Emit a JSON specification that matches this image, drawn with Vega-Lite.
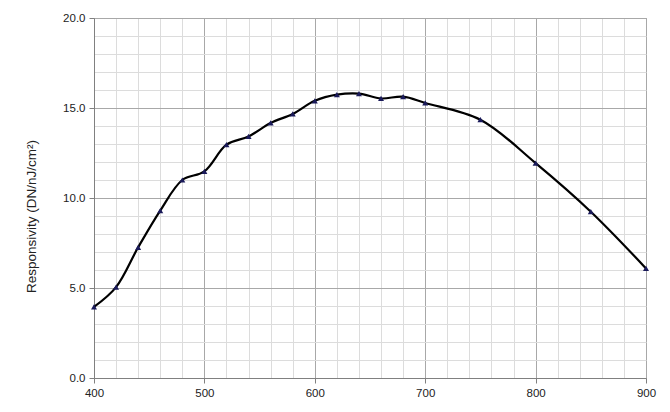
{
  "$schema": "https://vega.github.io/schema/vega-lite/v6.json",
  "autosize": "none",
  "width": 552,
  "height": 360,
  "padding": {"left": 94, "top": 18, "right": 24, "bottom": 34},
  "background": "white",
  "config": {
    "view": {"stroke": "#8c8c8c", "strokeWidth": 1},
    "font": "Liberation Sans"
  },
  "data": {
    "values": [
      {"wl": 400, "r": 3.95},
      {"wl": 420, "r": 5.05},
      {"wl": 440, "r": 7.26},
      {"wl": 460, "r": 9.3},
      {"wl": 480, "r": 11.0},
      {"wl": 500, "r": 11.48},
      {"wl": 520, "r": 12.96},
      {"wl": 540, "r": 13.42},
      {"wl": 560, "r": 14.17},
      {"wl": 580, "r": 14.67},
      {"wl": 600, "r": 15.4},
      {"wl": 620, "r": 15.74},
      {"wl": 640, "r": 15.8},
      {"wl": 660, "r": 15.53},
      {"wl": 680, "r": 15.63},
      {"wl": 700, "r": 15.28},
      {"wl": 750, "r": 14.35},
      {"wl": 800, "r": 11.94},
      {"wl": 850, "r": 9.24},
      {"wl": 900, "r": 6.09}
    ]
  },
  "encoding": {
    "x": {
      "field": "wl", "type": "quantitative",
      "scale": {"domain": [400, 900], "nice": false, "zero": false},
      "axis": {
        "title": null,
        "values": [400,420,440,460,480,500,520,540,560,580,600,620,640,660,680,700,720,740,760,780,800,820,840,860,880,900],
        "labelExpr": "datum.value % 100 === 0 ? datum.label : ''",
        "format": "d",
        "grid": true,
        "gridColor": {"condition": {"test": "datum.value % 100 === 0", "value": "#a8a8a8"}, "value": "#dcdcdc"},
        "gridWidth": 1,
        "tickColor": {"condition": {"test": "datum.value % 100 === 0", "value": "#808080"}, "value": "transparent"},
        "tickSize": 5,
        "domainColor": "#808080",
        "labelFontSize": 11.5,
        "labelColor": "#222",
        "labelPadding": 4,
        "labelFlush": false,
        "labelOverlap": false
      }
    },
    "y": {
      "field": "r", "type": "quantitative",
      "scale": {"domain": [0, 20], "nice": false},
      "axis": {
        "title": "Responsivity (DN/nJ/cm²)",
        "titleFontSize": 13.5,
        "titleFontWeight": "normal",
        "titleColor": "#222",
        "titleX": -56,
        "titleY": 198,
        "titleAngle": -90,
        "titleAlign": "center",
        "values": [0,1,2,3,4,5,6,7,8,9,10,11,12,13,14,15,16,17,18,19,20],
        "labelExpr": "datum.value % 5 === 0 ? format(datum.value, '.1f') : ''",
        "grid": true,
        "gridColor": {"condition": {"test": "datum.value % 5 === 0", "value": "#a8a8a8"}, "value": "#dcdcdc"},
        "gridWidth": 1,
        "tickColor": {"condition": {"test": "datum.value % 5 === 0", "value": "#808080"}, "value": "transparent"},
        "tickSize": 5,
        "domainColor": "#808080",
        "labelFontSize": 11.5,
        "labelColor": "#222",
        "labelPadding": 4,
        "labelFlush": false,
        "labelOverlap": false
      }
    }
  },
  "layer": [
    {
      "mark": {"type": "line", "interpolate": "catmull-rom", "color": "#000000", "strokeWidth": 2.2}
    },
    {
      "mark": {"type": "point", "shape": "triangle-up", "filled": true, "color": "#1a1a5a", "size": 36, "opacity": 1}
    }
  ]
}
